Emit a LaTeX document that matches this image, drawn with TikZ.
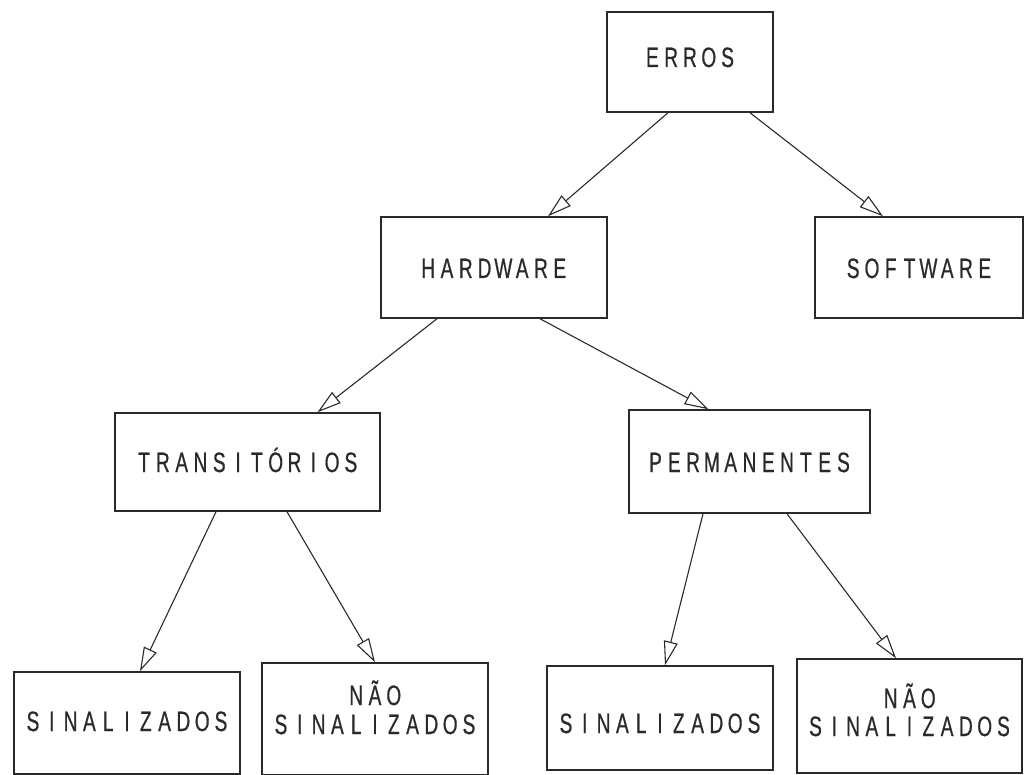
\documentclass[tikz,border=0pt]{standalone}
\usepackage{fontspec}
\usetikzlibrary{arrows.meta}
\newfontfamily\boxfont[FakeStretch=0.68,FakeBold=0.6]{Liberation Sans}
\definecolor{ink}{HTML}{2A2A2A}
\newlength\charw
\setlength\charw{18.8pt}
% typewriter-like fixed pitch: each letter in a box of equal width
\newcommand\spaced[1]{\spacedloop#1\relax}
\def\spacedloop#1{\ifx\relax#1\else\makebox[\charw]{#1}\expandafter\spacedloop\fi}
\begin{document}
\begin{tikzpicture}[x=1pt,y=-1pt,
  box/.style={draw=ink,line width=1.5pt,rectangle,inner sep=0pt},
  lbl/.style={inner sep=0pt,anchor=base,text=ink,font=\boxfont\fontsize{28}{28}\selectfont},
  arr/.style={draw=ink,line width=1.1pt,-{Triangle[open,length=24pt,width=14pt,fill=white]}}]
\useasboundingbox (0,0) rectangle (1031,775);

% boxes
\node[box,minimum width=166pt,minimum height=100pt] (erros) at (690,62) {};
\node[box,minimum width=226pt,minimum height=101pt] (hw) at (494,267.5) {};
\node[box,minimum width=208pt,minimum height=101pt] (sw) at (919,267.5) {};
\node[box,minimum width=265pt,minimum height=98pt] (tr) at (247.5,462) {};
\node[box,minimum width=241pt,minimum height=103pt] (pe) at (749.5,461.5) {};
\node[box,minimum width=226pt,minimum height=102pt] (s1) at (127,723) {};
\node[box,minimum width=226pt,minimum height=112pt] (n1) at (375,719) {};
\node[box,minimum width=226pt,minimum height=104pt] (s2) at (660,718) {};
\node[box,minimum width=225pt,minimum height=114pt] (n2) at (909.5,716) {};

% labels (placed by baseline)
\node[lbl] (terros) at (690,67) {\spaced{ERROS}};
\node[lbl] (thw) at (494,278) {\spaced{HARDWARE}};
\node[lbl] (tsw) at (919,278) {\spaced{SOFTWARE}};
\node[lbl] (ttr) at (247.5,472) {\spaced{TRANSITÓRIOS}};
\node[lbl] (tpe) at (749.5,472) {\spaced{PERMANENTES}};
\node[lbl] (ts1) at (127,731) {\spaced{SINALIZADOS}};
\node[lbl] (tn1a) at (375,705) {\spaced{NÃO}};
\node[lbl] (tn1b) at (375,734) {\spaced{SINALIZADOS}};
\node[lbl] (ts2) at (660,733) {\spaced{SINALIZADOS}};
\node[lbl] (tn2a) at (909.5,708) {\spaced{NÃO}};
\node[lbl] (tn2b) at (909.5,736) {\spaced{SINALIZADOS}};

% connectors
\draw[arr] ([xshift=-22pt]erros.south) -- ([xshift=54pt]hw.north);
\draw[arr] ([xshift=60pt]erros.south) -- ([xshift=-36pt]sw.north);
\draw[arr] ([xshift=-57pt]hw.south) -- ([xshift=70pt]tr.north);
\draw[arr] ([xshift=46pt]hw.south) -- ([xshift=-41pt]pe.north);
\draw[arr] ([xshift=-31.5pt]tr.south) -- ([xshift=13pt]s1.north);
\draw[arr] ([xshift=39.5pt]tr.south) -- (n1.north);
\draw[arr] ([xshift=-46.5pt]pe.south) -- ([xshift=5pt]s2.north);
\draw[arr] ([xshift=37.5pt]pe.south) -- ([xshift=-13.5pt]n2.north);
\end{tikzpicture}
\end{document}
